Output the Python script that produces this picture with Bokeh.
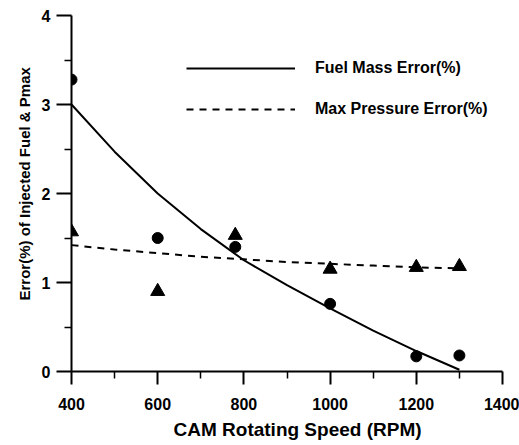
from bokeh.plotting import figure
from bokeh.models import (ColumnDataSource, FixedTicker, Legend, LegendItem, Range1d, Title)
from bokeh.embed import file_html
from bokeh.resources import INLINE

# ---- data ----
rpm = [400, 600, 780, 1000, 1200, 1300]
fuel_err = [3.28, 1.50, 1.40, 0.76, 0.17, 0.18]
pmax_err = [1.57, 0.90, 1.53, 1.15, 1.17, 1.18]

fit_rpm = [400, 500, 600, 700, 800, 900, 1000, 1100, 1200, 1300]
fuel_fit = [3.00, 2.47, 2.00, 1.60, 1.25, 0.97, 0.71, 0.46, 0.23, 0.02]
pmax_fit = [1.42, 1.37, 1.33, 1.29, 1.26, 1.23, 1.21, 1.19, 1.17, 1.16]

x_major = [400, 600, 800, 1000, 1200, 1400]
x_minor = [500, 700, 900, 1100, 1300]
y_major = [0, 1, 2, 3, 4]
y_minor = [0.5, 1.5, 2.5, 3.5]

FONT = "Liberation Sans"

p = figure(width=519, height=445, output_backend="svg", toolbar_location=None,
           x_range=Range1d(400, 1400), y_range=Range1d(0, 4),
           min_border_left=71, min_border_right=17, min_border_top=15, min_border_bottom=74)
p.outline_line_color = None
p.xgrid.visible = False
p.ygrid.visible = False
p.background_fill_color = "white"

src_pts = ColumnDataSource(dict(x=rpm, fuel=fuel_err, pmax=pmax_err))
src_fit = ColumnDataSource(dict(x=fit_rpm, fuel=fuel_fit, pmax=pmax_fit))

r_fuel = p.line("x", "fuel", source=src_fit, line_color="black", line_width=2)
r_pmax = p.line("x", "pmax", source=src_fit, line_color="black", line_width=2, line_dash="7 6")
p.scatter("x", "fuel", source=src_pts, marker="circle", size=11, fill_color="black", line_color="black")
p.scatter("x", "pmax", source=src_pts, marker="triangle", size=14, fill_color="black", line_color="black")

for ax, maj, mnr, tout, mout, sto in ((p.xaxis[0], x_major, x_minor, 13, 7, 13),
                                       (p.yaxis[0], y_major, y_minor, 15, 7, 6)):
    ax.ticker = FixedTicker(ticks=maj, minor_ticks=mnr)
    ax.axis_line_width = 2
    ax.major_tick_line_width = 2
    ax.minor_tick_line_width = 1.5
    ax.major_tick_in = 0
    ax.major_tick_out = tout
    ax.minor_tick_in = 0
    ax.minor_tick_out = mout
    ax.major_label_standoff = sto
    ax.major_label_text_font = FONT
    ax.major_label_text_font_style = "bold"
    ax.major_label_text_font_size = "16px"
    ax.major_label_text_color = "black"

# axis titles
p.add_layout(Title(text="CAM Rotating Speed (RPM)", align="left", offset=102,
                   vertical_align="middle", text_font=FONT, text_font_style="bold",
                   text_font_size="19px", text_color="black"), "below")
p.add_layout(Title(text="Error(%) of Injected Fuel & Pmax", align="left", offset=71,
                   vertical_align="middle", text_font=FONT, text_font_style="bold",
                   text_font_size="15px", text_color="black"), "left")

legend = Legend(items=[LegendItem(label="Fuel Mass Error(%)", renderers=[r_fuel]),
                       LegendItem(label="Max Pressure Error(%)", renderers=[r_pmax])],
                location=(115, 252), glyph_width=109, glyph_height=20, label_height=20,
                spacing=21, label_standoff=20, padding=0, margin=0,
                border_line_color=None, background_fill_alpha=0,
                label_text_font=FONT, label_text_font_style="bold",
                label_text_font_size="16px", label_text_color="black")
p.add_layout(legend)

open("out.html", "w").write(file_html(p, INLINE))
